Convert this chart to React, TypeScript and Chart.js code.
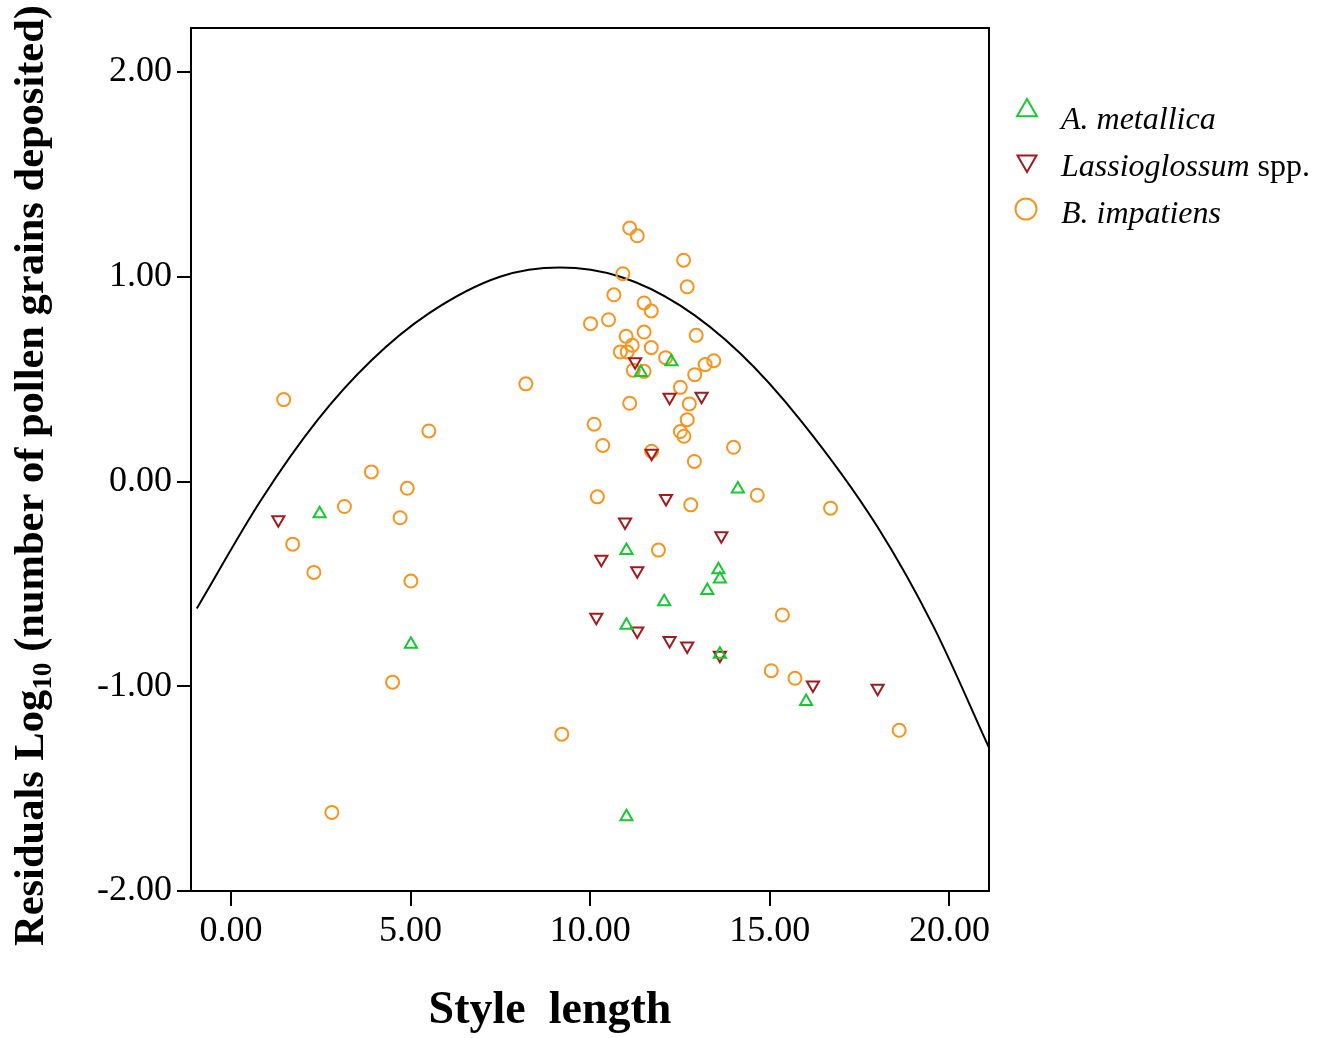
import React, { useEffect, useRef } from 'react';
import { Chart, registerables } from 'chart.js';

Chart.register(...registerables);

// A. metallica (green, up triangles)
const metallicaX = [2.47, 5.01, 12.26, 11.41, 14.11, 11.01, 13.57, 13.61, 13.26, 12.06, 11.01, 13.61, 11.01, 16.01];
const metallicaY = [-0.158, -0.795, 0.585, 0.533, -0.036, -0.337, -0.431, -0.476, -0.532, -0.587, -0.702, -0.844, -1.637, -1.075];

// Lassioglossum spp. (dark red, down triangles)
const lassioX = [1.32, 11.25, 12.21, 13.1, 11.71, 12.11, 10.97, 13.65, 10.31, 11.31, 10.17, 11.31, 12.21, 12.7, 13.61, 16.2, 18.0];
const lassioY = [-0.187, 0.585, 0.411, 0.416, 0.138, -0.083, -0.198, -0.265, -0.38, -0.436, -0.663, -0.73, -0.776, -0.803, -0.849, -0.994, -1.01];

// B. impatiens (orange circles)
const impatiensX = [
  1.47, 5.51, 3.91, 4.91, 3.16, 4.71, 1.72, 2.31, 5.01, 4.5, 2.81,
  11.1, 11.31, 12.6, 10.91, 12.7, 10.66, 11.5, 11.7, 10.01, 10.51, 11.5, 11.0, 12.95, 11.17, 11.7,
  10.84, 11.03, 12.1, 13.44, 13.2, 11.2, 11.5, 12.91, 8.21, 12.51, 11.1, 12.76, 12.7, 10.11, 12.51,
  12.61, 10.35, 13.99, 11.71, 12.9, 10.2, 12.8, 11.9, 9.21, 14.65, 16.69, 15.35, 15.04, 15.7, 18.6,
];
const impatiensY = [
  0.4, 0.247, 0.047, -0.033, -0.122, -0.177, -0.306, -0.444, -0.486, -0.98, -1.616,
  1.238, 1.2, 1.081, 1.015, 0.951, 0.912, 0.872, 0.833, 0.771, 0.79, 0.73, 0.709, 0.714, 0.665, 0.654,
  0.633, 0.633, 0.605, 0.59, 0.571, 0.543, 0.538, 0.522, 0.477, 0.46, 0.382, 0.379, 0.302, 0.28, 0.244,
  0.221, 0.176, 0.167, 0.148, 0.098, -0.075, -0.114, -0.335, -1.234, -0.067, -0.13, -0.652, -0.924, -0.961, -1.215,
];

// Fitted curve
const curveX = [-0.95, 0.84, 2.41, 3.9, 5.5, 7.49, 9.16, 10.84, 12.5, 14.18, 15.85, 17.99, 19.56, 21.1];
const curveY = [-0.62, -0.09, 0.3, 0.59, 0.82, 1.0, 1.045, 1.0, 0.86, 0.625, 0.3, -0.22, -0.71, -1.3];

const xTicks = [0, 5, 10, 15, 20];
const yTicks = [-2, -1, 0, 1, 2];

const GREEN = '#17c832';
const RED = '#9e1b1f';
const ORANGE = '#f7941d';
const SERIF = '"Liberation Serif", "Times New Roman", serif';

const toPoints = (xs: number[], ys: number[]) => xs.map((x, i) => ({ x, y: ys[i] }));

function triPath(ctx: CanvasRenderingContext2D, cx: number, cy: number, r: number, down: boolean) {
  const s = down ? -1 : 1;
  ctx.beginPath();
  ctx.moveTo(cx, cy - s * r);
  ctx.lineTo(cx + r * Math.sin(Math.PI * 2 / 3), cy + s * r / 2);
  ctx.lineTo(cx - r * Math.sin(Math.PI * 2 / 3), cy + s * r / 2);
  ctx.closePath();
}

const decor = {
  id: 'decor',
  afterDraw(chart: any) {
    const ctx: CanvasRenderingContext2D = chart.ctx;
    const a = chart.chartArea;
    ctx.save();
    // frame
    ctx.strokeStyle = '#000';
    ctx.lineWidth = 2;
    ctx.strokeRect(a.left, a.top, a.right - a.left, a.bottom - a.top);

    // y title (rotated, with subscript)
    ctx.save();
    ctx.translate(43, 946);
    ctx.rotate(-Math.PI / 2);
    const big = `bold 42px ${SERIF}`;
    const small = `bold 27px ${SERIF}`;
    const p1 = 'Residuals Log';
    const p2 = '10';
    const p3 = ' (number of pollen grains deposited)';
    ctx.font = big;
    const w1 = ctx.measureText(p1).width;
    const w3 = ctx.measureText(p3).width;
    ctx.font = small;
    const w2 = ctx.measureText(p2).width;
    const total = w1 + w2 + w3;
    const sc = 941 / total;
    ctx.scale(sc, 1);
    ctx.fillStyle = '#000';
    ctx.textBaseline = 'alphabetic';
    ctx.textAlign = 'left';
    ctx.font = big;
    ctx.fillText(p1, 0, 0);
    ctx.font = small;
    ctx.fillText(p2, w1, 8);
    ctx.font = big;
    ctx.fillText(p3, w1 + w2, 0);
    ctx.restore();

    // x title
    ctx.fillStyle = '#000';
    ctx.font = `bold 46px ${SERIF}`;
    ctx.textAlign = 'center';
    ctx.textBaseline = 'alphabetic';
    ctx.fillText('Style  length', 550, 1023);

    // legend
    ctx.lineWidth = 2;
    ctx.strokeStyle = GREEN;
    triPath(ctx, 1027, 110.5, 11.5, false);
    ctx.stroke();
    ctx.strokeStyle = RED;
    triPath(ctx, 1027, 161, 11, true);
    ctx.stroke();
    ctx.strokeStyle = ORANGE;
    ctx.beginPath();
    ctx.arc(1026, 209, 10.5, 0, Math.PI * 2);
    ctx.stroke();

    ctx.textAlign = 'left';
    ctx.fillStyle = '#000';
    const it = `italic 32px ${SERIF}`;
    const rm = `32px ${SERIF}`;
    ctx.font = it;
    ctx.fillText('A. metallica', 1061, 129);
    ctx.fillText('Lassioglossum', 1061, 176);
    const wl = ctx.measureText('Lassioglossum').width;
    ctx.font = rm;
    ctx.fillText(' spp.', 1061 + wl, 176);
    ctx.font = it;
    ctx.fillText('B. impatiens', 1061, 223);
    ctx.restore();
  },
};

export default function App() {
  const ref = useRef<HTMLCanvasElement | null>(null);
  useEffect(() => {
    if (!ref.current) return;
    const chart = new Chart(ref.current, {
      type: 'scatter',
      data: {
        datasets: [
          {
            label: 'A. metallica',
            data: toPoints(metallicaX, metallicaY),
            pointStyle: 'triangle',
            rotation: 0,
            pointRadius: 7,
            pointBorderWidth: 2,
            borderColor: GREEN,
            backgroundColor: 'rgba(0,0,0,0)',
          } as any,
          {
            label: 'Lassioglossum spp.',
            data: toPoints(lassioX, lassioY),
            pointStyle: 'triangle',
            rotation: 180,
            pointRadius: 7,
            pointBorderWidth: 2,
            borderColor: RED,
            backgroundColor: 'rgba(0,0,0,0)',
          } as any,
          {
            label: 'B. impatiens',
            data: toPoints(impatiensX, impatiensY),
            pointStyle: 'circle',
            pointRadius: 6.5,
            pointBorderWidth: 2,
            borderColor: ORANGE,
            backgroundColor: 'rgba(0,0,0,0)',
          } as any,
          {
            type: 'line',
            label: 'fit',
            data: toPoints(curveX, curveY),
            borderColor: '#000',
            borderWidth: 2,
            pointRadius: 0,
            fill: false,
            cubicInterpolationMode: 'monotone',
          } as any,
        ],
      },
      options: {
        animation: false,
        responsive: false,
        events: [],
        layout: { padding: { left: 0, top: 28, right: 338, bottom: 0 } },
        plugins: { legend: { display: false }, tooltip: { enabled: false } },
        scales: {
          x: {
            type: 'linear',
            min: -1.11,
            max: 21.1,
            afterFit: (s: any) => { s.height = 147; },
            afterBuildTicks: (s: any) => { s.ticks = xTicks.map((v) => ({ value: v })); },
            grid: { drawOnChartArea: false, drawTicks: true, tickLength: 15, color: '#000', lineWidth: 2 },
            border: { display: true, color: '#000', width: 2 },
            ticks: {
              color: '#000',
              font: { family: SERIF, size: 36 },
              padding: 4,
              maxRotation: 0,
              autoSkip: false,
              callback: (v: any) => Number(v).toFixed(2),
            },
          },
          y: {
            type: 'linear',
            min: -2,
            max: 2.215,
            afterFit: (s: any) => { s.width = 191; },
            afterBuildTicks: (s: any) => { s.ticks = yTicks.map((v) => ({ value: v })); },
            grid: { drawOnChartArea: false, drawTicks: true, tickLength: 14, color: '#000', lineWidth: 2 },
            border: { display: true, color: '#000', width: 2 },
            ticks: {
              color: '#000',
              font: { family: SERIF, size: 36 },
              padding: 5,
              autoSkip: false,
              callback: (v: any) => Number(v).toFixed(2),
            },
          },
        },
      },
      plugins: [decor],
    });
    return () => chart.destroy();
  }, []);
  return (
    <div style={{ position: 'fixed', left: 0, top: 0, width: 1327, height: 1038, background: '#fff' }}>
      <canvas ref={ref} width={1327} height={1038} style={{ display: 'block' }} />
    </div>
  );
}
